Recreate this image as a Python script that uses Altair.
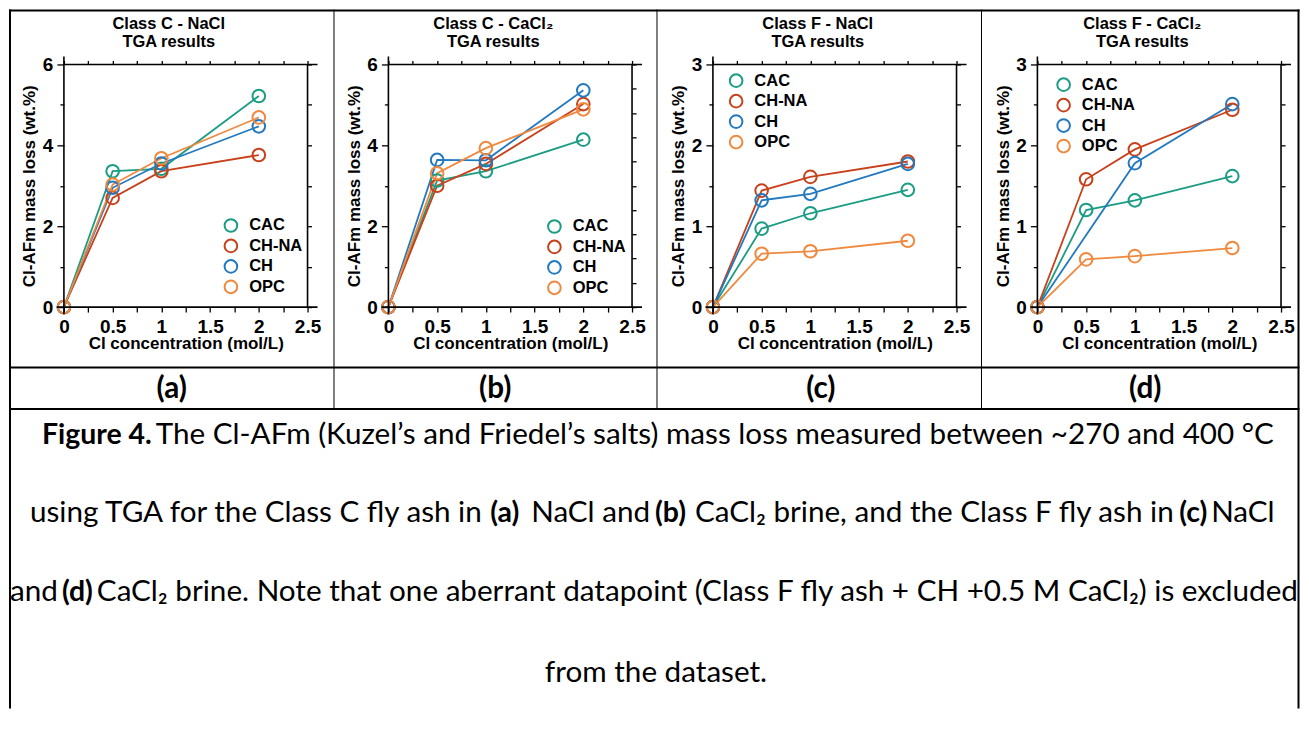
import altair as alt
import pandas as pd

# ---------------- data ----------------
conc = [0, 0.5, 1, 2]
series = ["CAC", "CH-NA", "CH", "OPC"]
series_colors = ["#1b9c84", "#c8411b", "#2279c0", "#f0883e"]

# (a) Class C - NaCl
a_CAC = [0, 3.36, 3.42, 5.22]
a_CHNA = [0, 2.70, 3.36, 3.76]
a_CH = [0, 2.95, 3.55, 4.47]
a_OPC = [0, 3.03, 3.68, 4.69]
# (b) Class C - CaCl2
b_CAC = [0, 3.13, 3.36, 4.14]
b_CHNA = [0, 3.00, 3.54, 5.02]
b_CH = [0, 3.64, 3.63, 5.36]
b_OPC = [0, 3.31, 3.93, 4.89]
# (c) Class F - NaCl
c_CAC = [0, 0.97, 1.16, 1.45]
c_CHNA = [0, 1.44, 1.61, 1.80]
c_CH = [0, 1.32, 1.40, 1.77]
c_OPC = [0, 0.66, 0.69, 0.82]
# (d) Class F - CaCl2 (CH at 0.5 M excluded)
d_CAC = [0, 1.20, 1.32, 1.62]
d_CHNA = [0, 1.58, 1.95, 2.44]
d_CH = [0, None, 1.78, 2.51]
d_OPC = [0, 0.59, 0.63, 0.73]

panel_titles = [
    ["Class C - NaCl", "TGA results"],
    ["Class C - CaCl\u2082", "TGA results"],
    ["Class F - NaCl", "TGA results"],
    ["Class F - CaCl\u2082", "TGA results"],
]
panel_letters = ["(a)", "(b)", "(c)", "(d)"]
x_title = "Cl concentration (mol/L)"
y_title = "Cl-AFm mass loss (wt.%)"
x_ticks = [0, 0.25, 0.5, 0.75, 1, 1.25, 1.5, 1.75, 2, 2.25, 2.5]
y_ticks_6 = [0, 1, 2, 3, 4, 5, 6]
y_ticks_3 = [0, 0.5, 1, 1.5, 2, 2.5, 3]
right_ticks_b = [0, 0.6, 1.2, 1.8, 2.4, 3.0, 3.6, 4.2, 4.8, 5.4, 6.0]

caption_text = [
    ["Figure 4.", "The Cl-AFm (Kuzel\u2019s and Friedel\u2019s salts) mass loss measured between ~270 and 400 \u00b0C"],
    ["using TGA for the Class C fly ash in", "(a)", "NaCl and", "(b)",
     "CaCl\u2082 brine, and the Class F fly ash in", "(c)", "NaCl"],
    ["and", "(d)", "CaCl\u2082 brine. Note that one aberrant datapoint (Class F fly ash + CH +0.5 M CaCl\u2082) is excluded"],
    ["from the dataset."],
]
caption_bold = [
    [True, False],
    [False, True, False, True, False, True, False],
    [False, True, False],
    [False],
]

# ---------------- layout (pixels) ----------------
PW, PH, GAP = 244, 243, 81
OX, OY = 63, 306          # page position of the annotation cell origin
AX_FONT = "Liberation Sans, Arial, sans-serif"
CAP_FONT = "Lato, 'Open Sans', sans-serif"
CAP_SIZE = 29.7
CAP_BOLD_SIZE = 28.5
caption_x = [[41, 155], [29, 490, 531, 655, 695, 1180, 1212], [9, 61, 96], [656]]
caption_y = [443, 521, 600, 681]
letter_x = [171, 495, 821, 1146]
letter_y = 397
TABLE_RIGHT = 1299.5
POINT_SIZE = 160

one = pd.DataFrame({"k": [0]})


def frame_rules():
    r = alt.Chart(one).mark_rule(color="black", strokeWidth=1.6)
    return [
        r.encode(x=alt.value(-7), x2=alt.value(PW + 10), y=alt.value(PH)),
        r.encode(x=alt.value(0), x2=alt.value(PW + 10), y=alt.value(0)),
        r.encode(x=alt.value(0), y=alt.value(-8), y2=alt.value(PH + 7)),
        r.encode(x=alt.value(PW), y=alt.value(0), y2=alt.value(PH)),
    ]


def make_panel(values, ymax, left_ticks, major_test, right_ticks, title, leg_x, leg_y):
    rows = []
    for name, ys in zip(series, values):
        for xv, yv in zip(conc, ys):
            if yv is not None:
                rows.append({"series": name, "conc": xv, "loss": yv})
    df = pd.DataFrame(rows)
    xsc = alt.Scale(domain=[0, 2.5], nice=False)
    ysc = alt.Scale(domain=[0, ymax], nice=False)
    csc = alt.Scale(domain=series, range=series_colors)
    legend = alt.Legend(
        orient="none", legendX=leg_x, legendY=leg_y, title=None,
        symbolType="circle", symbolSize=POINT_SIZE, symbolStrokeWidth=2,
        symbolFillColor="transparent", symbolOpacity=1,
        labelFont=AX_FONT, labelFontSize=16.5, labelFontWeight="bold", labelColor="black",
        labelOffset=10, rowPadding=-1.5, padding=0)
    base = alt.Chart(df)
    lines = base.mark_line(strokeWidth=1.8).encode(
        x=alt.X("conc:Q", scale=xsc, title=x_title, axis=alt.Axis(
            orient="bottom", values=x_ticks, tickSize=5, labelPadding=5,
            labelFlush=False, labelOverlap=False,
            labelExpr="datum.value % 0.5 === 0 ? '' + datum.value : ''",
            titleX=PW / 2, titleY=41.7, titleBaseline="alphabetic", titleAlign="center")),
        y=alt.Y("loss:Q", scale=ysc, title=y_title, axis=alt.Axis(
            orient="left", values=left_ticks,
            tickSize={"condition": {"test": major_test, "value": 7}, "value": 4},
            labelFlush=False, labelOverlap=False,
            labelExpr=f"({major_test}) ? '' + datum.value : ''", labelPadding=4,
            titleX=-29, titleY=PH / 2, titleBaseline="alphabetic", titleAlign="center")),
        color=alt.Color("series:N", scale=csc, legend=legend),
    )
    points = base.mark_point(shape="circle", filled=False, size=POINT_SIZE, strokeWidth=2, opacity=1).encode(
        x=alt.X("conc:Q", scale=xsc, title=None, axis=alt.Axis(
            orient="top", values=x_ticks, tickSize=4, labels=False)),
        y=alt.Y("loss:Q", scale=ysc, title=None, axis=alt.Axis(
            orient="right", values=right_ticks, tickSize=4, labels=False)),
        color=alt.Color("series:N", scale=csc, legend=legend),
    )
    return alt.layer(lines, points, *frame_rules()).properties(
        width=PW, height=PH,
        title=alt.TitleParams(text=title, font=AX_FONT, fontSize=16.5, fontWeight="bold",
                              anchor="middle", frame="group", dx=-17, offset=5,
                              lineHeight=18.4, color="black"),
    )


pa = make_panel([a_CAC, a_CHNA, a_CH, a_OPC], 6, y_ticks_6, "datum.value % 2 === 0",
                y_ticks_6, panel_titles[0], 159, 153)
pb = make_panel([b_CAC, b_CHNA, b_CH, b_OPC], 6, y_ticks_6, "datum.value % 2 === 0",
                right_ticks_b, panel_titles[1], 158, 154)
pc = make_panel([c_CAC, c_CHNA, c_CH, c_OPC], 3, y_ticks_3, "datum.value % 1 === 0",
                y_ticks_3, panel_titles[2], 15, 8)
pd_ = make_panel([d_CAC, d_CHNA, d_CH, d_OPC], 3, y_ticks_3, "datum.value % 1 === 0",
                 y_ticks_3, panel_titles[3], 18, 12)

# ---------------- table lines, panel letters and caption ----------------
def rx(px):
    return px - OX


def ry(py):
    return py - OY


ann_layers = []
hr = alt.Chart(one).mark_rule(color="black", strokeWidth=2)
for yy in [9, 366.5, 408]:
    ann_layers.append(hr.encode(x=alt.value(rx(8)), x2=alt.value(rx(TABLE_RIGHT + 1)), y=alt.value(ry(yy))))
for xx in [9, TABLE_RIGHT]:
    ann_layers.append(hr.encode(x=alt.value(rx(xx)), y=alt.value(ry(8)), y2=alt.value(ry(708))))
vr = alt.Chart(one).mark_rule(color="black", strokeWidth=1)
for xx in [333.5, 657, 982]:
    ann_layers.append(vr.encode(x=alt.value(rx(xx)), y=alt.value(ry(8)), y2=alt.value(ry(408))))

for lt, lx in zip(panel_letters, letter_x):
    ann_layers.append(alt.Chart(one).mark_text(
        align="center", baseline="alphabetic", font=CAP_FONT, fontSize=CAP_SIZE,
        fontWeight="bold", color="black").encode(
        x=alt.value(rx(lx)), y=alt.value(ry(letter_y)), text=alt.value(lt)))

for li, (segs, bolds, xs) in enumerate(zip(caption_text, caption_bold, caption_x)):
    for si, (seg, bd, sx) in enumerate(zip(segs, bolds, xs)):
        align = "center" if li == 3 else "left"
        ann_layers.append(alt.Chart(one).mark_text(
            align=align, baseline="alphabetic", font=CAP_FONT,
            fontSize=CAP_BOLD_SIZE if bd else CAP_SIZE,
            fontWeight="bold" if bd else "normal", color="black").encode(
            x=alt.value(rx(sx)), y=alt.value(ry(caption_y[li])), text=alt.value(seg)))

ann = alt.layer(*ann_layers).properties(width=PW, height=1)

chart = alt.concat(
    pa, pb, pc, pd_, ann, columns=4, spacing={"row": 0, "column": GAP}, bounds="flush"
).resolve_scale(color="independent").resolve_legend(color="independent").properties(
    padding=0
).configure_view(strokeWidth=0).configure_axis(
    domain=False, grid=False, tickColor="black", tickWidth=1.3,
    labelColor="black", labelFont=AX_FONT, labelFontSize=19, labelFontWeight="bold",
    titleColor="black", titleFont=AX_FONT, titleFontSize=17, titleFontWeight="bold",
)

chart.save("out.html", embed_options={"renderer": "svg", "actions": False})
